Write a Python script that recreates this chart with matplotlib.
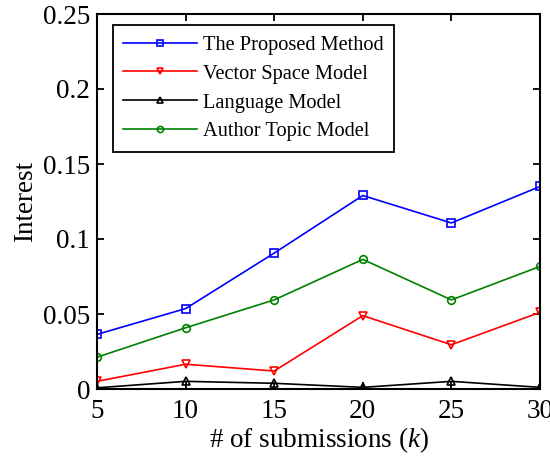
import numpy as np
import matplotlib
matplotlib.use("Agg")
import matplotlib.pyplot as plt

plt.rcParams['font.family'] = ['Liberation Serif', 'DejaVu Serif']
plt.rcParams['mathtext.fontset'] = 'custom'
plt.rcParams['mathtext.it'] = 'Liberation Serif:italic'
plt.rcParams['mathtext.rm'] = 'Liberation Serif'

k = [5, 10, 15, 20, 25, 30]
proposed = [0.0364, 0.0536, 0.0906, 0.129, 0.1107, 0.135]
vsm = [0.0051, 0.0165, 0.012, 0.0489, 0.0295, 0.0511]
lm = [0.0008, 0.0051, 0.0038, 0.0011, 0.0051, 0.0011]
atm = [0.0212, 0.0408, 0.0594, 0.0864, 0.0594, 0.0817]

fig = plt.figure(figsize=(5.5, 4.61), dpi=100)
ax = fig.add_axes([97/550, 1-389/461, (540-97)/550, (389-14)/461])

ax.plot(k, proposed, color='blue', marker='s', ms=5.5, mfc='none', mew=1.2, lw=1.2, label='The Proposed Method')
ax.plot(k, vsm, color='red', marker='v', ms=5.5, mfc='none', mew=1.2, lw=1.2, label='Vector Space Model')
ax.plot(k, lm, color='black', marker='^', ms=5.5, mfc='none', mew=1.2, lw=1.2, label='Language Model')
ax.plot(k, atm, color='#008000', marker='o', ms=5.5, mfc='none', mew=1.2, lw=1.2, label='Author Topic Model')

ax.set_xlim(5, 30)
ax.set_ylim(0, 0.25)
ax.set_xticks(k)
ax.set_yticks([0, 0.05, 0.1, 0.15, 0.2, 0.25])
ax.set_yticklabels(['0', '0.05', '0.1', '0.15', '0.2', '0.25'])
ax.tick_params(direction='in', top=True, right=True, labelsize=19.5, width=1.3, length=5)
ax.tick_params(axis='x', pad=7)
ax.tick_params(axis='y', pad=5)
for s in ax.spines.values():
    s.set_linewidth(1.5)

ax.set_xlabel('# of submissions ($k$)', fontsize=19.5, labelpad=1)
ax.set_ylabel('Interest', fontsize=19.5, labelpad=3)

leg = ax.legend(loc='upper left', bbox_to_anchor=(0.036, 0.97), borderaxespad=0,
                fontsize=14.7, numpoints=1, handlelength=3.6, fancybox=False, framealpha=1,
                borderpad=0.5, labelspacing=0.47, handletextpad=0.3, markerscale=0.8)
leg.get_frame().set_edgecolor('black')
leg.get_frame().set_linewidth(1.3)

fig.savefig('out.png', dpi=100)
